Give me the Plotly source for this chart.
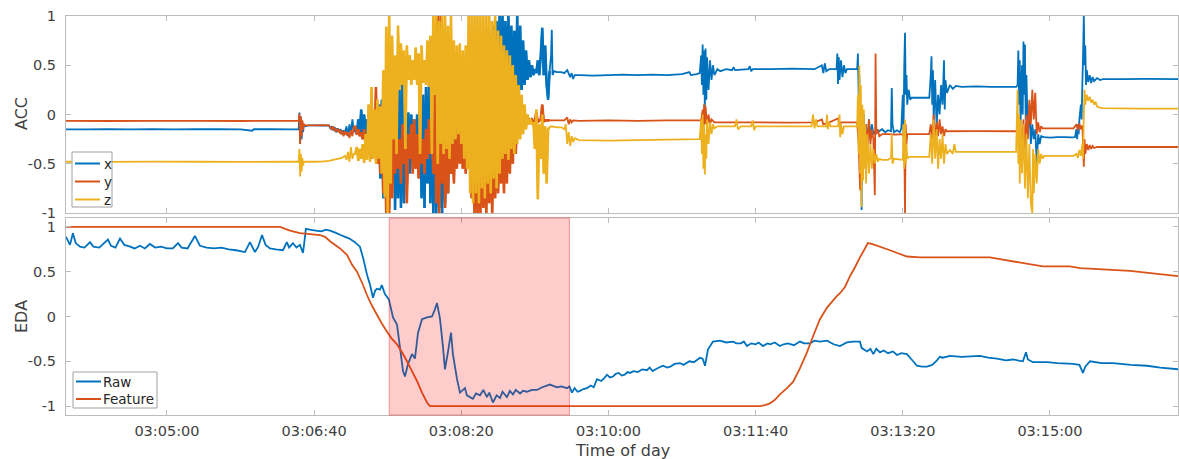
import pandas as pd
import plotly.graph_objects as go
from plotly.subplots import make_subplots

# ---------------------------------------------------------------------------
# Data (time in seconds after 03:00:00)
# ---------------------------------------------------------------------------

# Accelerometer, quiet stretch before the movement episode: (seconds, value)
ACC_X_BEFORE = [(231, -0.15), (245, -0.152), (260, -0.148), (275, -0.151), (290, -0.149), (305, -0.152),
                (320, -0.15), (335, -0.148), (350, -0.151), (358, -0.165), (359, -0.15), (370, -0.15),
                (385, -0.152), (389.5, -0.15), (390, 0.02), (390.5, -0.30), (391, -0.02), (391.5, -0.25),
                (392, -0.08), (392.5, -0.18), (393, -0.10), (394, -0.12), (396, -0.11), (400, -0.11),
                (405, -0.112), (410, -0.11), (411, -0.14), (412, -0.12), (413, -0.16), (414, -0.13),
                (415, -0.18), (416, -0.14), (417, -0.17), (418, -0.15), (419, -0.20), (420, -0.16),
                (421, -0.19), (422, -0.12), (423, -0.22), (424, -0.10), (425, -0.20), (426, -0.05),
                (427, -0.18)]
ACC_Y_BEFORE = [(231, -0.065), (260, -0.066), (290, -0.064), (320, -0.065), (350, -0.066), (380, -0.065),
                (389.5, -0.065), (390, 0.01), (390.5, -0.30), (391, -0.02), (391.5, -0.22), (392, -0.06),
                (392.5, -0.15), (393, -0.10), (394, -0.11), (400, -0.11), (405, -0.108), (410, -0.11),
                (411, -0.13), (412, -0.15), (413, -0.12), (414, -0.17), (415, -0.14), (416, -0.18),
                (417, -0.15), (418, -0.20), (419, -0.16), (420, -0.22), (421, -0.17), (422, -0.21),
                (423, -0.18), (424, -0.24), (425, -0.16), (426, -0.22), (427, -0.12)]
ACC_Z_BEFORE = [(231, -0.48), (260, -0.481), (290, -0.479), (320, -0.48), (350, -0.481), (380, -0.48),
                (389.5, -0.48), (390, -0.35), (390.5, -0.63), (391, -0.40), (391.5, -0.58), (392, -0.44),
                (392.5, -0.52), (393, -0.48), (394, -0.48), (400, -0.48), (405, -0.478), (410, -0.47),
                (413, -0.46), (416, -0.45), (419, -0.44), (421, -0.42), (422, -0.46), (423, -0.38),
                (424, -0.48), (425, -0.33), (426, -0.45), (427, -0.40)]

# Accelerometer during the movement episode, one sample per second from 428 s to 560 s
BURST_START, BURST_END = 428, 560
ACC_X_BURST = [
    -0.12, -0.20, -0.05, -0.18, 0.05, -0.22, 0.00, -0.25, -0.05, -0.30,
    -0.10, -0.40, 0.00, -0.35, 0.05, -0.50, 0.10, -0.65, 0.15, -0.85,
    0.20, -0.84, 0.10, -0.70, 0.15, -0.60, 0.20, -0.97, 0.10, -0.85,
    0.25, -0.95, 0.30, -0.90, 0.00, -0.70, 0.02, -0.60, 0.00, -0.50,
    -0.05, -0.40, 0.00, -0.60, 0.05, -0.85, 0.20, -0.95, 0.28, -0.70,
    0.30, -0.90, 0.20, -1.00, 0.25, -1.00, 0.10, -0.95, 0.15, -1.00,
    0.20, -0.90, 0.30, -0.80, 0.25, -0.60, 0.30, -0.40, 0.28, -0.20,
    0.30, -0.10, 0.25, -0.30, 0.35, -0.40, 0.40, -0.50, 0.50, -0.70,
    0.60, -0.95, 0.70, -0.85, 0.65, -0.90, 0.80, -0.80, 0.75, -0.70,
    0.85, -0.60, 0.80, -0.50, 0.90, -0.30, 0.95, -0.10, 1.00, 0.05,
    1.00, 0.10, 0.95, 0.05, 1.00, 0.15, 0.90, 0.10, 0.85, 0.20,
    1.00, 0.15, 0.90, 0.25, 0.75, 0.30, 0.65, 0.35, 0.55, 0.38,
    0.50, 0.40, 0.46, 0.42, 0.55, 0.40, 0.60, 0.88, 0.40, 0.70,
    0.30, 0.15, 0.44,
]
ACC_Y_BURST = [
    -0.12, -0.20, -0.15, -0.22, -0.18, -0.25, -0.15, -0.30, -0.20, -0.40,
    -0.10, -0.45, 0.05, -0.35, 0.28, -0.50, -0.20, -0.60, 0.10, -0.80,
    -0.30, -1.00, 0.30, -1.00, -0.40, -0.85, -0.20, -0.60, -0.15, -0.55,
    -0.25, -0.70, -0.10, -0.50, -0.30, -0.90, -0.20, -0.45, -0.10, -0.60,
    -0.05, -0.55, -0.20, -0.65, -0.10, -0.50, -0.25, -0.60, -0.15, -0.45,
    -0.05, -0.40, -0.20, -0.60, 0.40, -0.90, 1.00, -1.00, 1.00, -0.70,
    -0.10, -0.95, -0.20, -0.80, -0.10, -0.60, -0.30, -0.70, -0.15, -0.55,
    -0.10, -0.50, -0.20, -0.55, -0.10, -0.60, -0.30, -0.55, -0.40, -0.85,
    -0.50, -1.00, -0.30, -1.00, -0.45, -1.00, -0.35, -0.95, -0.40, -1.00,
    -0.30, -0.90, -0.25, -1.00, -0.20, -0.85, -0.30, -0.80, -0.20, -0.70,
    -0.20, -0.80, -0.10, -0.70, 0.05, -0.60, -0.10, -0.50, 0.00, -0.40,
    -0.05, -0.20, 0.00, -0.15, -0.03, -0.12, -0.05, -0.10, -0.04, -0.08,
    -0.05, -0.07, -0.06, 0.02, -0.08, -0.06, -0.05, 0.10, -0.07, -0.06,
    -0.06, -0.06, -0.06,
]
ACC_Z_BURST = [
    -0.40, -0.33, -0.47, -0.35, -0.45, -0.30, -0.49, -0.20, -0.46, 0.10,
    -0.48, 0.28, -0.45, 0.05, -0.50, 0.15, -0.45, 0.08, -0.60, 0.45,
    -0.84, 0.89, -1.00, 1.00, -0.70, 0.80, -0.25, 0.60, -0.40, 0.90,
    0.25, 0.72, 0.30, 0.65, -0.35, 0.70, 0.35, 0.60, 0.30, 0.55,
    0.35, 0.68, 0.30, 0.62, -0.40, 0.70, 0.32, 0.55, 0.30, 0.75,
    0.28, 0.80, -0.40, 1.00, 0.20, 1.00, -0.50, 0.95, -0.30, 1.00,
    -0.40, 1.00, -0.35, 0.90, -0.45, 1.00, -0.30, 0.75, -0.25, 0.70,
    -0.20, 0.72, -0.30, 0.65, -0.45, 0.70, -0.55, 1.00, -0.80, 1.00,
    -0.90, 1.00, -0.80, 1.00, -0.90, 1.00, -0.75, 1.00, -0.85, 1.00,
    -0.70, 1.00, -0.80, 0.95, -0.65, 1.00, -0.75, 0.85, -0.60, 0.80,
    -0.45, 0.70, -0.40, 0.65, -0.46, 0.60, -0.35, 0.50, -0.40, 0.40,
    -0.30, 0.30, -0.25, 0.20, -0.20, 0.10, -0.15, 0.00, -0.10, -0.05,
    -0.10, -0.08, -0.35, 0.05, -0.86, -0.10, -0.45, 0.00, -0.60, -0.12,
    -0.70, -0.15, -0.13,
]

# Accelerometer after the movement episode: (seconds, value)
ACC_X_AFTER = [
    (561, 0.60), (561.5, 0.86), (562, 0.40), (563, 0.44), (565, 0.43), (568, 0.43), (570, 0.42),
    (572, 0.45), (574, 0.38), (575, 0.42), (576, 0.36), (577, 0.40), (580, 0.40), (590, 0.395),
    (600, 0.40), (610, 0.405), (620, 0.40), (630, 0.405), (640, 0.40), (650, 0.41), (655, 0.43),
    (656, 0.40), (660, 0.41), (662, 0.42), (663, 0.60), (663.5, 0.30), (664, 0.71), (664.5, 0.20),
    (665, 0.65), (665.5, 0.05), (666, 0.67), (666.5, 0.15), (667, 0.58), (668, 0.25), (669, 0.55),
    (670, 0.35), (671, 0.50), (672, 0.40), (674, 0.46), (676, 0.44), (680, 0.46), (684, 0.45),
    (685, 0.48), (686, 0.45), (695, 0.46), (696, 0.49), (697, 0.44), (698, 0.46), (710, 0.46),
    (725, 0.465), (740, 0.46), (745, 0.50), (746, 0.42), (747, 0.52), (748, 0.44), (750, 0.46),
    (755, 0.46), (755.5, 0.62), (756, 0.31), (756.5, 0.58), (757, 0.35), (758, 0.55), (759, 0.38),
    (760, 0.50), (761, 0.42), (762, 0.46), (768, 0.46), (769, 0.46), (769.5, 0.62), (770, 0.20),
    (770.5, 0.40), (771, -0.50), (771.5, 0.10), (772, -0.97), (772.5, -0.20), (773, -0.60),
    (773.5, 0.00), (774, -0.40), (775, -0.10), (776, -0.30), (777, -0.05), (778, -0.25),
    (779, -0.10), (780, -0.20), (782, -0.15), (784, -0.17), (786, -0.15), (788, -0.18),
    (790, -0.16), (792, -0.17), (792.5, 0.27), (793, -0.10), (794, -0.18), (796, -0.16),
    (798, -0.18), (799, -0.14), (800, 0.20), (800.5, -0.20), (801, 0.50), (801.5, 0.83),
    (802, 0.20), (802.5, 0.40), (803, 0.10), (804, 0.25), (805, 0.15), (806, 0.17), (810, 0.17),
    (816, 0.17), (818, 0.17), (819, 0.40), (819.5, 0.59), (820, 0.10), (820.5, 0.45), (821, -0.05),
    (822, 0.35), (823, -0.13), (824, 0.20), (825, 0.00), (826, 0.30), (827, 0.10), (828, 0.55),
    (828.5, 0.05), (829, 0.35), (830, 0.22), (832, 0.30), (834, 0.26), (836, 0.29), (840, 0.28),
    (850, 0.285), (860, 0.28), (870, 0.28), (877, 0.28), (878, 0.30), (878.5, 0.65), (879, 0.10),
    (879.5, 0.55), (880, -0.10), (881, 0.50), (881.5, 0.00), (882, 0.74), (882.5, 0.20),
    (883, 0.71), (883.5, -0.05), (884, 0.40), (885, -0.20), (886, 0.10), (887, -0.30),
    (888, -0.10), (889, -0.25), (890, -0.15), (891, -0.50), (892, -0.20), (893, -0.30),
    (894, -0.22), (896, -0.23), (900, -0.235), (905, -0.23), (910, -0.23), (915, -0.232),
    (917, -0.23), (918, -0.15), (918.5, -0.25), (919, -0.10), (919.5, -0.20), (920, -0.05),
    (921, 0.10), (921.5, -0.05), (922, 0.30), (922.5, 0.60), (923, 1.00), (923.5, 0.50),
    (924, 0.70), (924.5, 0.30), (925, 0.45), (926, 0.33), (927, 0.40), (928, 0.32), (929, 0.38),
    (930, 0.34), (932, 0.37), (934, 0.35), (936, 0.36), (950, 0.36), (965, 0.362), (988, 0.36),
]
ACC_Y_AFTER = [
    (561, -0.06), (565, -0.06), (570, -0.06), (572, -0.03), (573, -0.10), (574, -0.05), (575, -0.08),
    (576, -0.06), (580, -0.065), (600, -0.06), (620, -0.065), (640, -0.06), (662, -0.06),
    (663, -0.06), (664, 0.05), (664.5, -0.15), (665, 0.11), (665.5, -0.10), (666, 0.08),
    (667, -0.12), (668, 0.00), (669, -0.10), (670, -0.05), (672, -0.08), (680, -0.08), (700, -0.08),
    (720, -0.082), (740, -0.08), (745, -0.05), (746, -0.10), (750, -0.08), (756, -0.04),
    (757, -0.11), (758, -0.08), (768, -0.08), (769, -0.08), (770, -0.30), (771, -0.77),
    (771.5, 0.10), (772, -0.40), (773, 0.00), (774, -0.50), (775, -0.10), (776, -0.35),
    (777, -0.05), (778, -0.30), (779, -0.15), (780, -0.25), (781, -0.82), (781.5, 0.62),
    (782, -0.20), (783, -0.15), (784, -0.22), (786, -0.20), (790, -0.20), (795, -0.205),
    (800, -0.20), (801, -0.25), (801.5, -1.00), (802, -0.10), (802.5, -0.30), (803, -0.20),
    (818, -0.20), (819, -0.10), (820, -0.25), (821, 0.00), (822, -0.28), (823, -0.08),
    (824, -0.22), (825, -0.05), (826, -0.20), (827, -0.12), (828, -0.22), (829, -0.15),
    (830, -0.17), (850, -0.168), (877, -0.17), (878, -0.17), (879, -0.30), (880, -0.10),
    (881, -0.45), (882, -0.05), (883, -0.35), (884, 0.00), (885, -0.25), (886, 0.15),
    (887, -0.10), (888, 0.25), (889, -0.05), (890, 0.22), (891, -0.20), (892, -0.08),
    (893, -0.18), (894, -0.12), (895, -0.14), (916, -0.14), (918, -0.10), (919, -0.16),
    (920, -0.09), (921, -0.15), (922, -0.11), (922.5, -0.30), (923, -0.53), (923.5, -0.25),
    (924, -0.40), (925, -0.30), (926, -0.36), (927, -0.31), (928, -0.35), (929, -0.32),
    (930, -0.34), (932, -0.33), (988, -0.33),
]
ACC_Z_AFTER = [
    (561, -0.12), (565, -0.13), (568, -0.13), (570, -0.15), (571, -0.10), (572, -0.30), (573, -0.18),
    (574, -0.32), (575, -0.22), (576, -0.28), (577, -0.24), (580, -0.26), (600, -0.265),
    (620, -0.26), (640, -0.255), (662, -0.25), (663, -0.05), (663.5, -0.40), (664, 0.00),
    (664.5, -0.55), (665, -0.10), (665.5, -0.61), (666, -0.20), (666.5, -0.45), (667, -0.05),
    (668, -0.30), (669, -0.08), (670, -0.20), (671, -0.10), (672, -0.14), (674, -0.12),
    (686, -0.12), (687, -0.05), (688, -0.15), (690, -0.12), (697, -0.12), (698, -0.06),
    (699, -0.16), (700, -0.12), (720, -0.12), (738, -0.12), (739, 0.00), (740, -0.14),
    (741, -0.05), (742, -0.12), (748, -0.12), (748.5, 0.00), (749, -0.15), (750, -0.08),
    (751, -0.12), (756, -0.12), (757, 0.00), (757.5, -0.23), (758, -0.10), (759, -0.20),
    (760, -0.12), (768, -0.12), (769, -0.12), (769.5, 0.20), (770, -0.40), (770.5, 0.50),
    (771, -0.60), (771.5, 0.30), (772, -0.94), (772.5, 0.10), (773, -0.67), (773.5, 0.05),
    (774, -0.55), (774.5, -0.10), (775, -0.70), (776, -0.20), (777, -0.60), (778, -0.30),
    (779, -0.55), (780, -0.35), (781, -0.50), (782, -0.40), (783, -0.48), (784, -0.45),
    (786, -0.46), (790, -0.46), (792, -0.44), (792.5, -0.20), (793, -0.50), (794, -0.45),
    (800, -0.46), (800.5, -0.10), (801, -0.55), (801.5, -0.05), (802, -0.50), (802.5, -0.30),
    (803, -0.45), (804, -0.43), (818, -0.43), (819, -0.20), (820, -0.50), (821, -0.05),
    (822, -0.45), (823, -0.15), (824, -0.55), (825, -0.25), (826, -0.45), (827, -0.20),
    (828, -0.50), (829, -0.30), (830, -0.40), (832, -0.36), (834, -0.40), (835, -0.30),
    (836, -0.38), (860, -0.38), (877, -0.38), (878, 0.25), (878.5, -0.50), (879, 0.00),
    (879.5, -0.70), (880, -0.05), (881, -0.60), (882, -0.10), (883, -0.75), (884, -0.20),
    (885, -0.85), (886, -0.30), (887, -0.90), (888, -1.00), (888.5, -0.35), (889, -0.80),
    (890, -0.40), (891, -0.70), (892, -0.35), (893, -0.50), (894, -0.40), (895, -0.45),
    (896, -0.42), (916, -0.42), (918, -0.40), (919, -0.44), (920, -0.36), (921, -0.42),
    (922, -0.30), (922.5, -0.45), (923, 0.00), (923.5, 0.25), (924, 0.10), (925, 0.20),
    (926, 0.14), (927, 0.18), (928, 0.12), (929, 0.15), (930, 0.10), (931, 0.13), (932, 0.08),
    (934, 0.07), (936, 0.065), (960, 0.06), (988, 0.06),
]

# Normalised electrodermal activity: (seconds, value)
EDA_RAW = [
    (231.4, 0.89), (234.1, 0.80), (236.1, 0.93), (238, 0.82), (240.9, 0.78), (244, 0.77),
    (247.7, 0.83), (250, 0.78), (254, 0.77), (259.9, 0.86), (262, 0.79), (265, 0.77),
    (268.1, 0.87), (271, 0.80), (275, 0.78), (278, 0.76), (281.7, 0.79), (285, 0.76),
    (288.4, 0.81), (292, 0.77), (296, 0.78), (300, 0.76), (304, 0.76), (307.5, 0.82),
    (310, 0.77), (314, 0.76), (319.0, 0.90), (322.4, 0.79), (327, 0.77), (332, 0.76),
    (337, 0.77), (342, 0.75), (347, 0.74), (353.0, 0.72), (356.4, 0.83), (359.8, 0.72),
    (362, 0.78), (364.6, 0.91), (367, 0.80), (370.0, 0.76), (374, 0.75), (378.8, 0.74),
    (381.5, 0.83), (383, 0.77), (385.6, 0.82), (388, 0.77), (390.4, 0.80), (392.4, 0.71),
    (393, 0.78), (394.4, 0.98), (397.2, 0.97), (401, 0.96), (405, 0.95), (408, 0.97),
    (410.8, 0.96), (414, 0.94), (418, 0.91), (421.0, 0.89), (424, 0.87), (427.7, 0.83),
    (431.1, 0.78), (433.2, 0.66), (435.9, 0.47), (437.9, 0.36), (440.0, 0.21), (441.5, 0.29),
    (442.7, 0.31), (444.7, 0.30), (446, 0.35), (448.1, 0.25), (450.8, 0.19), (453.6, -0.01),
    (456.3, -0.09), (458.3, -0.34), (460.4, -0.61), (461.7, -0.67), (463.8, -0.53),
    (466.5, -0.42), (468.5, -0.47), (470.6, -0.18), (473.3, -0.03), (476.7, -0.01),
    (480.1, 0.00), (482.1, 0.08), (483.5, 0.15), (485.5, -0.02), (487.5, -0.33), (488.9, -0.59),
    (490.9, -0.40), (493.0, -0.18), (494.3, -0.42), (497.1, -0.70), (499.1, -0.85),
    (502.5, -0.80), (503.8, -0.88), (507.9, -0.92), (510, -0.86), (512.7, -0.88), (515, -0.82),
    (517.4, -0.90), (519, -0.85), (521.5, -0.96), (524, -0.88), (526.3, -0.91), (528, -0.84),
    (531.0, -0.90), (533, -0.83), (535.1, -0.87), (537, -0.82), (539.9, -0.86), (542, -0.83),
    (544.6, -0.84), (548, -0.82), (551.4, -0.82), (555, -0.79), (560.2, -0.76), (565.0, -0.79),
    (568, -0.78), (571.8, -0.80), (573.5, -0.78), (575.2, -0.85), (577, -0.80), (579, -0.84),
    (580.6, -0.83), (583, -0.81), (585.4, -0.80), (588, -0.77), (590, -0.79), (592.2, -0.70),
    (595, -0.72), (597, -0.69), (599.0, -0.65), (601, -0.68), (603.1, -0.67), (605, -0.64),
    (607, -0.63), (609, -0.66), (611, -0.65), (613, -0.62), (614.6, -0.63), (617, -0.61),
    (620, -0.62), (623, -0.59), (626.2, -0.60), (628, -0.57), (630, -0.61), (633, -0.58),
    (637.0, -0.55), (640, -0.57), (642, -0.56), (645, -0.53), (648.6, -0.52), (651, -0.54),
    (655, -0.50), (658, -0.51), (662.2, -0.46), (664, -0.47),
    (665.6, -0.55), (667.6, -0.37), (671.0, -0.28), (675.8, -0.27), (680, -0.29), (684.6, -0.28),
    (687, -0.30), (690, -0.30), (692, -0.28), (694.1, -0.33), (697, -0.30), (700, -0.31),
    (702, -0.29), (705.0, -0.33), (708, -0.30), (710, -0.31), (713, -0.29), (716.5, -0.33),
    (719, -0.31), (722, -0.30), (726, -0.32), (730.1, -0.28), (733, -0.30), (737, -0.30),
    (740, -0.27), (743.7, -0.28), (748.5, -0.27), (753, -0.31),
    (757.3, -0.33), (762, -0.29), (766.1, -0.28), (770.9, -0.28), (772, -0.35), (775.6, -0.39),
    (778, -0.36), (780, -0.42), (782, -0.36), (784.5, -0.40), (787, -0.38), (790, -0.41),
    (793.3, -0.39), (796.0, -0.43), (799, -0.41), (802.8, -0.42), (806, -0.48), (809.6, -0.55),
    (813, -0.56), (816.4, -0.56), (820, -0.54), (823.2, -0.49), (825.2, -0.45), (827, -0.46),
    (832.0, -0.44), (840, -0.45), (852.4, -0.44), (858, -0.46), (864.0, -0.47), (870, -0.49),
    (874.8, -0.48), (881.6, -0.50), (883.7, -0.40), (885, -0.48), (888.4, -0.51), (897.9, -0.51),
    (905, -0.52), (915.6, -0.53), (920, -0.54), (922.4, -0.63), (924, -0.56), (927.2, -0.50),
    (935, -0.52), (942.8, -0.52), (955, -0.54), (965.9, -0.55), (975, -0.57), (987.6, -0.59),
]
EDA_FEATURE = [
    (231.4, 1.00), (376.8, 1.00), (383.6, 0.96), (390.4, 0.93), (397.2, 0.92), (404, 0.91),
    (407.4, 0.89), (410.8, 0.84), (417.6, 0.76), (422.3, 0.69), (425.7, 0.58), (429.1, 0.50),
    (432.5, 0.38), (435.9, 0.24), (439.3, 0.12), (442.7, 0.02), (446.1, -0.08), (449.5, -0.17),
    (452.9, -0.25), (456.3, -0.31), (459.7, -0.40), (463.1, -0.50), (466.5, -0.61),
    (469.9, -0.72), (473.3, -0.85), (476.7, -0.96), (478.7, -1.00), (703, -1.00), (706.4, -0.99),
    (709.7, -0.97), (713.1, -0.93), (716.5, -0.87), (721.3, -0.80), (725.4, -0.73),
    (730.1, -0.58), (734.9, -0.40), (739, -0.22), (743.7, -0.03), (748.5, 0.10), (755.3, 0.23),
    (757.3, 0.26), (760.7, 0.33), (764.1, 0.45), (767.5, 0.55), (770.9, 0.66), (774.3, 0.76),
    (776.3, 0.82), (779, 0.81), (791.3, 0.74), (802.8, 0.67), (811.7, 0.66), (859.2, 0.66),
    (866, 0.64), (895.2, 0.56), (913.6, 0.56), (920.4, 0.54), (954.4, 0.51), (987.6, 0.45),
]

# Highlighted window and axis ticks
WINDOW = ("03:07:31", "03:09:33.5")
VIEW = (231.4, 987.0)
TIME_TICKS = ["03:05:00", "03:06:40", "03:08:20", "03:10:00", "03:11:40", "03:13:20", "03:15:00"]
VALUE_TICKS = [-1, -0.5, 0, 0.5, 1]
VALUE_LABELS = ["-1", "-0.5", "0", "0.5", "1"]

# ---------------------------------------------------------------------------
# Helpers
# ---------------------------------------------------------------------------
DAY = pd.Timestamp("2017-03-01 03:00:00")


def to_time(seconds):
    return [DAY + pd.Timedelta(seconds=float(s)) for s in seconds]


def clock(label):
    return pd.Timestamp("2017-03-01 " + label)


BURST_T = list(range(BURST_START, BURST_END + 1))


def series(before, burst, after):
    t = [p[0] for p in before] + BURST_T + [p[0] for p in after]
    v = [p[1] for p in before] + list(burst) + [p[1] for p in after]
    return to_time(t), v


# Page geometry of the plotting area (pixels), used for the boxed legends
LEFT, RIGHT, TOP, BOTTOM = 66, 1178, 16, 415


def px_x(px):
    return (px - LEFT) / (RIGHT - LEFT)


def px_y(py):
    return (BOTTOM - py) / (BOTTOM - TOP)


BLUE, ORANGE, YELLOW = "#0072BD", "#D95319", "#EDB120"
FONT = "DejaVu Sans"
FRAME = "#bcbcbc"
INK = "#404040"

fig = make_subplots(rows=2, cols=1, shared_xaxes=False, vertical_spacing=0.0)

acc = [
    ("x", ACC_X_BEFORE, ACC_X_BURST, ACC_X_AFTER, BLUE),
    ("y", ACC_Y_BEFORE, ACC_Y_BURST, ACC_Y_AFTER, ORANGE),
    ("z", ACC_Z_BEFORE, ACC_Z_BURST, ACC_Z_AFTER, YELLOW),
]
for name, before, burst, after, color in acc:
    tx, vy = series(before, burst, after)
    fig.add_trace(go.Scatter(x=tx, y=vy, mode="lines", name=name, showlegend=False,
                             line=dict(color=color, width=1.8, simplify=False)), row=1, col=1)
    # the densely sampled movement episode reads as a solid band, so draw it heavier
    fig.add_trace(go.Scatter(x=to_time(BURST_T), y=burst, mode="lines", name=name, showlegend=False,
                             hoverinfo="skip", line=dict(color=color, width=2.6, simplify=False)),
                  row=1, col=1)

eda = [("Raw", EDA_RAW, BLUE), ("Feature", EDA_FEATURE, ORANGE)]
for name, pts, color in eda:
    fig.add_trace(go.Scatter(x=to_time([p[0] for p in pts]), y=[p[1] for p in pts], mode="lines",
                             name=name, showlegend=False,
                             line=dict(color=color, width=1.8, simplify=False)),
                  row=2, col=1)

# Highlighted window, drawn over the EDA traces
fig.add_shape(type="rect", xref="x2", yref="y2 domain",
              x0=clock(WINDOW[0]), x1=clock(WINDOW[1]), y0=0, y1=1,
              fillcolor="rgba(255,0,0,0.2)", line=dict(color="rgba(230,0,0,0.35)", width=1),
              layer="above")


# Boxed legends in the lower-left corner of each panel
def boxed_legend(entries, box, first_row, row_step, text_x):
    x0, y0, x1, y1 = box
    fig.add_shape(type="rect", xref="paper", yref="paper",
                  x0=px_x(x0), x1=px_x(x1), y0=px_y(y1), y1=px_y(y0),
                  fillcolor="white", line=dict(color="#a0a0a0", width=1), layer="above")
    for i, (label, color) in enumerate(entries):
        yy = first_row + i * row_step
        fig.add_shape(type="line", xref="paper", yref="paper",
                      x0=px_x(x0 + 3), x1=px_x(x0 + 28), y0=px_y(yy), y1=px_y(yy),
                      line=dict(color=color, width=2), layer="above")
        fig.add_annotation(xref="paper", yref="paper", x=px_x(text_x), y=px_y(yy),
                           xanchor="left", yanchor="middle", text=label, showarrow=False,
                           font=dict(family=FONT, size=13.5, color="#262626"))


boxed_legend([(a[0], a[4]) for a in acc], (72, 152, 112, 207), 163.5, 18, 102)
boxed_legend([(e[0], e[2]) for e in eda], (73, 372, 157, 408), 381.5, 17.5, 101)

# Axis titles
title_font = dict(family=FONT, size=16, color=INK)
fig.add_annotation(xref="paper", yref="paper", x=px_x(21), y=px_y(114), text="ACC", textangle=-90,
                   showarrow=False, xanchor="center", yanchor="middle", font=title_font)
fig.add_annotation(xref="paper", yref="paper", x=px_x(21), y=px_y(317), text="EDA", textangle=-90,
                   showarrow=False, xanchor="center", yanchor="middle", font=title_font)
fig.add_annotation(xref="paper", yref="paper", x=0.5, y=px_y(450), text="Time of day",
                   showarrow=False, xanchor="center", yanchor="middle", font=title_font)

x_range = to_time(VIEW)
tick_vals = [clock(s) for s in TIME_TICKS]
axis_common = dict(showline=True, linecolor=FRAME, linewidth=1, mirror="ticks", ticks="inside",
                   ticklen=5, tickcolor=FRAME, showgrid=False, zeroline=False,
                   tickfont=dict(family=FONT, size=14.5, color=INK))

fig.update_xaxes(**axis_common, type="date", range=x_range, tickvals=tick_vals, ticktext=TIME_TICKS)
fig.update_xaxes(showticklabels=False, row=1, col=1)
fig.update_xaxes(ticklabelstandoff=3, row=2, col=1)
fig.update_yaxes(**axis_common, tickvals=VALUE_TICKS, ticktext=VALUE_LABELS, ticklabelstandoff=6)
fig.update_yaxes(range=[-1, 1], domain=[0.5063, 1.0], row=1, col=1)
fig.update_yaxes(range=[-1.1, 1.1], domain=[0.0, 0.4937], row=2, col=1)

fig.update_layout(
    width=1179, height=459,
    margin=dict(l=LEFT, r=1179 - RIGHT, t=TOP, b=459 - BOTTOM),
    paper_bgcolor="white", plot_bgcolor="white",
    font=dict(family=FONT, color=INK),
    showlegend=False,
)

fig.write_html("out.html")
